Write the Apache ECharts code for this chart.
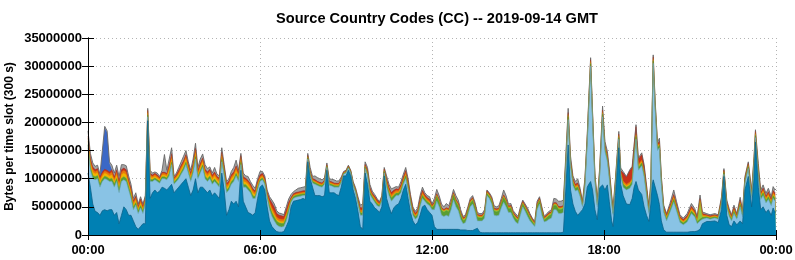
<!DOCTYPE html>
<html>
<head>
<meta charset="utf-8">
<script src="https://cdn.jsdelivr.net/npm/echarts@6/dist/echarts.min.js"></script>
<style>
html,body{margin:0;padding:0;background:#fff;}
#chart{width:795px;height:260px;}
</style>
</head>
<body>
<div id="chart"></div>
<script>
// time of each sample, minutes after 00:00 GMT
const minutes = [
0,5,10,15,20,25,30,35,40,45,50,55,
60,65,70,75,80,85,90,95,100,105,110,115,120,
125,130,135,140,145,150,155,160,165,170,175,
180,185,190,195,200,205,210,215,220,225,230,235,
240,245,250,255,260,265,270,275,280,285,290,295,
300,305,310,315,320,325,330,335,340,345,350,355,
360,365,370,375,380,385,390,395,400,405,410,415,
420,425,430,435,440,445,450,455,460,465,470,475,
480,485,490,495,500,505,510,515,520,525,530,535,
540,545,550,555,560,565,570,575,580,585,590,595,
600,605,610,615,620,625,630,635,640,645,650,655,
660,665,670,675,680,685,690,695,700,705,710,715,
720,725,730,735,740,745,750,755,760,765,770,775,
780,785,790,795,800,805,810,815,820,825,830,835,
840,845,850,855,860,865,870,875,880,885,890,895,
900,905,910,915,920,925,930,935,940,945,950,955,
960,965,970,975,980,985,990,995,1000,1005,1010,1015,
1020,1025,1030,1035,1040,1045,1048,1052,1056,1061,1066,1071,1077,1082,1087,1091,1096,1099,1104,1111,1115,1120,1127,1134,1139,1143,1147,1152,1159,1164,1169,1174,1178,1181,1183,1187,1192,1196,1200,1205,
1211,1218,1226,1232,1239,1246,1254,1263,1270,1275,1281,1286,1295,1302,1312,1319,1326,1331,1337,1342,1347,1352,1358,1365,1370,1375,1382,1389,1394,1397,1403,1408,1413,1419,1424,1430,1434,1438,1440
];

// top of the whole stack (millions of bytes)
const total = [
18.5,14.5,12.8,12.2,12.4,10.8,15,19.3,18.5,13,12.4,11,
12.4,10.4,12.5,12.5,12.3,10.5,9,6.5,7.5,5.5,6.8,5.5,7,
22.5,11.5,11,11.2,11,10.4,11.5,14.3,11.5,13.5,15.5,
10.5,11,12,13,14,15,13,11.5,13.5,16.3,12,13.5,
14.4,12.5,11.8,12.1,11,12,10.8,10.5,15.5,12.5,9.5,10,
11.3,12,13.3,11.5,14.5,11,10.5,10.4,9.5,8.8,8.3,10,
11.3,11.3,10.5,8,6.8,6.2,5.5,4.3,3.9,3.8,3.6,5,
6.4,7.2,7.7,8,8.3,8.4,8.5,8.6,14.5,12,10.4,10.5,
10.2,10,9.8,10.2,12.8,10,9.9,9.8,9.6,9.6,10.3,11.3,
11.5,12.4,11.5,9.5,8.4,6.8,5.3,5.5,13,12,9,7.8,
7.2,6.5,5.9,7,12,10.5,9,8.2,8.4,8.6,8.5,9.5,
10.8,12,10,7.2,5,4.2,4.8,7,8.5,7.5,7,6.8,
5.5,6.5,8.1,7,5.5,5,5.6,5.2,6.5,8.1,7,6.2,
4.5,3.3,3.6,5,6.5,7,5.8,4,3.8,3.8,4.5,8,
7.5,6.8,5.2,5,5.2,6.5,8,7,5.5,5.6,4.3,3.8,
3.3,5,6.2,5.5,4.8,3.8,3,2.4,6,6.8,5,3.3,
3.8,4.2,4.5,6.5,6.4,6,6,6.2,14,22.5,14,10.5,
9.5,10,8.3,6,10,18,24,31.5,22,11,6.2,12,22.9,16.6,14.9,11.9,7.2,4.8,10.1,18.4,11.9,11.3,10.4,11.6,12.2,16,19.6,13.7,14.6,12.5,8.9,5.1,9.5,23.2,32,24,16.5,17.2,10.5,5.3,
3.8,5.6,8,5.9,3.6,3,3.8,5.6,4.7,3.3,7.1,4.1,3.8,3.6,3.8,3.6,6.8,11.8,6.2,4.7,3.6,5.3,3.8,6.7,4.4,10.4,13,8,13.9,18.7,12.7,8,8.9,7.4,8.3,6.8,8.6,8,8.2
];

// top edge of the dark teal (bottom) layer
const tealTop = [
11,8.5,5.5,4.2,4,3.5,4.3,4.5,4.3,4.5,4.5,3.5,
4,2,3.5,5,4.5,3.5,3.5,2.5,1.5,1,1.5,2,2,
20.3,6.5,7.5,8,7.5,7.8,8.5,8.3,8,8.5,9,
7.5,8,8.5,9,9.5,10,8.5,7,8,10,7.5,8.5,
8.5,8,7.5,8,7,7.5,7,6.5,11,8,3.5,4.5,
6,5.5,6,5,11.5,6,5,4,3.8,3.5,4,6.5,
8.5,8.9,8,5,2.5,1.5,1,0.6,0.5,0.5,0.6,1.5,
2.5,5,6,6.1,6.2,6.3,6.5,6.3,13,10,8.5,7,
7,7,6.8,7,11.5,7.5,7.5,7.5,7.2,7,8.5,10.5,
10.5,11.5,10.5,8,6.5,4.2,1.5,1,11,9,6,5.5,
4.8,4.5,4,5,10.5,6.5,5,3.8,4.8,5.3,5.5,6.5,
8,9,6.5,4,2.5,1.8,2.2,3.5,5,5.3,4.5,4,
3.5,1.5,1,1,1,1,1,1,1,1,1,1,
0.9,0.9,0.9,0.8,0.8,0.8,1,1.2,0.5,0.4,0.4,0.4,
0.4,0.4,0.4,0.4,0.4,0.4,0.4,0.4,0.4,0.4,0.4,0.4,
0.4,0.4,0.4,0.4,0.4,0.4,0.4,0.4,0.4,0.4,0.4,0.4,
0.4,0.4,0.4,0.4,0.4,0.4,0.4,0.5,8,16,8,5.5,
4.2,3.5,4,4.5,5.5,8.5,9,9.5,8,4.5,2.7,8.4,8.9,8,8.9,6,2.5,1.5,7,15.5,9,7,5.5,5.4,6.5,8.5,9.5,8,7.2,5,3.5,2.4,5.5,9,9.8,9.5,7,5.4,2.5,0.9,
0.5,0.5,0.5,0.5,0.5,0.5,0.5,0.6,0.6,0.7,1,2,2.4,2.4,2.5,2.2,4.5,10.4,3.5,1.8,1.5,2.5,1.8,2.5,2,8,10.4,5,10,16.5,8.5,4.5,5,4,4.5,3.5,4.8,4,4.2
];

// top edge of the light blue layer
const lightBlueTop = [
15.5,11.5,10,9.8,10,8.5,9.5,10,9.8,9.5,9.5,8.5,
9.5,7.5,9.5,9.8,9.5,8,6.5,4.5,5.3,3.8,4.8,3.8,5.5,
21,9.5,9.5,9.8,9.5,9.2,10,10,9.8,10.5,12.5,
9,9.5,10,10.8,11.5,12.5,11,9.5,11,13.5,10,11,
12,10,9.5,10,9,9.5,9,8.5,13,10.5,7.5,8,
9,9.5,10.5,9.5,12.5,8.5,8.5,8,7.5,6.5,6.5,8,
9.5,9.8,9,6.5,4.5,3.3,2.5,1.8,1.5,1.4,1.5,2.5,
4,5.8,6.5,6.7,6.8,6.9,7,7,13.5,10.5,9.2,9,
8.8,8.6,8.5,9,12,8.8,8.7,8.5,8.5,8.5,9.3,10.8,
11,11.9,11,8.8,7.5,5.5,3.5,3.5,11.8,10.5,7.2,6.5,
5.8,5.2,5,6,11,8.5,7,6,6.5,7,7,7.5,
9,10,8,5.5,3.5,2.8,3.2,5,6.5,6,5.5,5.2,
4.5,4.5,6,5,3.5,3.3,3.5,3.3,4.5,6.2,5,4.3,
2.8,2,2.2,3.5,5,5.5,4.2,2.5,2.5,2.5,3,7,
6.5,5.5,3.5,3.4,3.5,4.8,5.8,5,4,4,3,2.3,
2,3.5,5,4.2,3.3,2.5,2,1.5,4.5,5.5,3.5,2.3,
2.5,2.8,3,4.5,4.5,3.8,3.8,4,12,20.5,12,8.8,
7.8,8,6.8,5,8.5,16.5,22.5,30,20.5,9.5,5,10.5,21,14.8,13,10,5.7,3.5,8.8,17,10.5,8.5,8,8.3,9,13.5,17,11.5,12.3,10.3,7,3.8,8,21.8,30.5,22.5,15,15.5,9,4,
2.5,4,5.8,4.2,2.2,1.8,2.3,3.8,3.2,2,2.5,2.8,3,2.8,3,2.8,5.5,10.8,4.8,3.3,2.5,3.8,2.8,5,3.2,9.2,11.8,6.5,12.5,17.3,10.5,6.3,7,5.7,6.3,5.2,6.5,6,6.2
];

// thin layers (thickness, millions of bytes)
const green = [
.5,.5,.5,.5,.5,.5,.4,.4,.4,.4,.5,.5,
.5,.5,.5,.5,.5,.5,.5,.4,.4,.4,.4,.4,.3,
.3,.3,.3,.3,.3,.3,.3,.3,.3,.4,.4,
.3,.3,.3,.3,.4,.4,.3,.3,.4,.4,.3,.4,
.4,.4,.4,.4,.4,.4,.3,.4,.4,.4,.4,.4,
.4,.4,.4,.4,.4,.4,.4,.4,.4,.4,.3,.4,
.3,.3,.3,.3,.6,.6,.6,.6,.6,.6,.5,.6,
.5,.3,.3,.3,.3,.3,.3,.3,.2,.3,.3,.3,
.25,.25,.25,.25,.15,.25,.25,.25,.2,.2,.2,.1,
.1,.1,.1,.15,.2,.3,.4,.4,.25,.35,.4,.3,
.35,.35,.25,.25,.25,.5,.5,.55,.5,.4,.4,.5,
.45,.5,.5,.45,.4,.4,.4,.5,.5,.4,.4,.4,
.3,.8,.8,.8,.8,.7,.8,.8,.8,.8,.8,.8,
.7,.5,.55,.6,.6,.6,.65,.6,.5,.5,.6,.3,
.3,.5,.7,.7,.7,.7,.8,.8,.6,.7,.5,.6,
.5,.6,.45,.5,.6,.5,.3,.2,.6,.5,.6,.3,
.5,.6,.6,.7,.7,.7,.7,.7,.5,.5,.5,.5,
.45,.5,.4,.2,.4,.4,.4,.4,.4,.4,.3,.4,.45,.45,.45,.45,.4,.3,.3,.3,.3,.5,.45,.5,.5,.45,.45,.45,.45,.45,.45,.35,.4,.3,.4,.4,.4,.4,.4,.3,
.35,.4,.5,.4,.35,.3,.35,.4,.35,.3,.3,.3,.2,.2,.2,.2,.3,.25,.35,.35,.3,.35,.25,.4,.3,.3,.3,.35,.35,.35,.5,.4,.45,.4,.45,.4,.45,.45,.45
];
const lime = [
.1,.1,.1,.1,.1,.1,.1,.1,.1,.1,.1,.1,
.1,.1,.1,.1,.1,.1,.1,.1,.1,.1,.1,.1,.1,
.05,.05,.05,.05,.05,.05,.05,.05,.05,.05,.05,
.1,.1,.1,.1,.1,.1,.1,.1,.1,.1,.1,.1,
.1,.1,.1,.1,.1,.1,.1,.1,.1,.1,.1,.1,
.1,.1,.1,.1,.1,.1,.1,.1,.1,.1,.1,.1,
.05,.05,.05,.05,.1,.1,.1,.1,.1,.1,.1,.1,
.1,.05,.05,.05,.05,.05,.05,.05,.05,.05,.05,.05,
.05,.05,.05,.05,.05,.05,.05,.05,.05,.05,.05,.05,
.05,.05,.05,.05,.05,.05,.05,.05,.05,.05,.05,.05,
.05,.05,.05,.05,.05,.05,.05,.05,.05,.05,.05,.05,
.05,.05,.05,.05,.05,.05,.05,.05,.05,.05,.05,.05,
.05,.2,.2,.2,.2,.2,.2,.2,.2,.2,.2,.2,
.2,.2,.2,.2,.2,.2,.2,.2,.2,.2,.2,.2,
.2,.2,.2,.2,.2,.2,.2,.2,.2,.2,.2,.2,
.2,.2,.2,.2,.2,.2,.2,.2,.2,.2,.2,.2,
.2,.2,.2,.2,.2,.2,.2,.2,.1,.1,.1,.1,
.1,.1,.1,.05,.1,.1,.1,.1,.1,.1,.1,.1,.1,.1,.1,.1,.1,.1,.1,.1,.1,.1,.1,.1,.1,.1,.1,.1,.1,.1,.1,.1,.1,.1,.1,.1,.1,.1,.1,.1,
.1,.1,.1,.1,.1,.1,.1,.1,.1,.1,3,.1,.05,.05,.05,.05,.1,.05,.1,.1,.05,.1,.05,.1,.1,.1,.1,.1,.1,.1,.1,.1,.1,.1,.1,.1,.1,.1,.1
];
const yellow = [
.6,.6,.6,.5,.5,.5,.5,.5,.5,.5,.6,.5,
.6,.6,.6,.6,.6,.5,.5,.4,.4,.3,.4,.3,.3,
.3,.4,.3,.3,.3,.25,.3,.3,.3,.6,.6,
.3,.3,.4,.5,.5,.5,.4,.4,.5,.6,.4,.5,
.5,.5,.5,.5,.4,.5,.4,.4,.5,.4,.4,.4,
.5,.5,.5,.4,.4,.5,.4,.5,.4,.5,.3,.4,
.2,.2,.2,.2,.3,.4,.4,.3,.3,.3,.3,.3,
.3,.1,.1,.1,.1,.1,.1,.1,.1,.1,.1,.1,
.1,.1,.1,.1,.05,.1,.1,.1,.1,.1,.1,.05,
.05,.05,.05,.05,.1,.1,.15,.15,.1,.1,.15,.1,
.15,.1,.1,.1,.1,.2,.2,.2,.2,.15,.15,.2,
.15,.2,.2,.15,.15,.1,.15,.2,.2,.15,.15,.15,
.1,.05,.05,.05,.05,.05,.05,.05,.05,.05,.05,.05,
.05,.05,.05,.05,.05,.05,.05,.05,.05,.05,.05,.05,
.05,.05,.05,.05,.05,.05,.05,.05,.05,.05,.05,.05,
.05,.05,.05,.05,.05,.05,.05,.05,.05,.05,.05,.05,
.05,.05,.05,.05,.05,.05,.05,.05,.15,.15,.15,.15,
.15,.15,.15,.1,.15,.15,.15,.15,.15,.15,.15,.15,.15,.15,.15,.15,.15,.15,.15,.15,.15,.2,.2,.2,.2,.2,.2,.2,.2,.2,.2,.2,.15,.15,.15,.15,.15,.15,.15,.15,
.2,.2,.25,.2,.2,.15,.2,.25,.2,.2,.2,.2,.1,.1,.1,.1,.2,.15,.2,.2,.15,.2,.15,.2,.15,.15,.15,.2,.2,.2,.25,.2,.25,.2,.25,.2,.25,.25,.25
];
const orange = [
.5,.5,.5,.4,.4,.4,.4,.4,.4,.4,.5,.4,
.5,.5,.5,.5,.5,.4,.4,.4,.4,.3,.4,.3,.3,
.3,.4,.3,.3,.3,.25,.3,.3,.3,.5,.5,
.3,.3,.4,.4,.4,.5,.4,.4,.4,.5,.4,.4,
.4,.4,.4,.4,.4,.4,.35,.4,.4,.4,.4,.4,
.4,.4,.5,.4,.4,.5,.4,.4,.4,.4,.35,.4,
.3,.3,.3,.3,.4,.5,.5,.4,.4,.4,.4,.4,
.4,.2,.2,.2,.2,.2,.2,.2,.15,.2,.2,.2,
.2,.2,.2,.2,.15,.2,.2,.2,.2,.2,.15,.1,
.1,.1,.1,.15,.15,.25,.35,.35,.2,.3,.35,.25,
.3,.3,.2,.2,.2,.4,.4,.4,.4,.35,.3,.4,
.35,.4,.4,.35,.3,.3,.3,.4,.4,.3,.3,.3,
.2,.15,.15,.15,.15,.15,.15,.15,.15,.15,.15,.15,
.15,.15,.15,.15,.15,.15,.15,.15,.15,.15,.15,.15,
.15,.15,.15,.15,.15,.15,.15,.15,.15,.15,.15,.15,
.15,.15,.15,.15,.15,.15,.15,.15,.15,.15,.15,.15,
.15,.15,.15,.15,.15,.15,.15,.15,.25,.25,.25,.25,
.25,.25,.25,.2,.25,.25,.25,.25,.25,.25,.2,.25,.25,.25,.25,.25,.25,.2,.2,.2,.2,.3,.3,.3,.3,.3,.3,.3,.3,.3,.3,.3,.25,.2,.25,.25,.25,.25,.25,.2,
.25,.25,.3,.25,.25,.2,.25,.3,.25,.2,.25,.2,.15,.15,.15,.15,.2,.15,.25,.25,.2,.25,.15,.25,.2,.2,.2,.25,.25,.25,.3,.25,.3,.25,.3,.25,.3,.3,.3
];
const red = [
.4,.4,.4,.3,.3,.3,.3,.3,.3,.3,.4,.3,
.4,.4,.4,.4,.4,.3,.3,.3,.3,.2,.3,.2,.2,
.2,.3,.2,.2,.2,.15,.2,.2,.2,.4,.4,
.2,.2,.3,.3,.3,.3,.3,.3,.3,.3,.3,.3,
.3,.3,.3,.3,.3,.3,.25,.3,.3,.3,.3,.3,
.3,.3,.3,.3,.3,.3,.3,.3,.3,.3,.25,.3,
.3,.3,.3,.3,.5,.8,.8,.6,.6,.6,.5,.6,
.5,.2,.2,.2,.2,.2,.2,.2,.15,.2,.2,.2,
.15,.15,.15,.15,.1,.15,.15,.15,.15,.15,.15,.05,
.05,.05,.05,.1,.15,.2,.4,.4,.15,.25,.3,.2,
.25,.25,.15,.15,.15,.3,.3,.35,.3,.25,.25,.3,
.3,.3,.3,.3,.25,.2,.25,.3,.3,.25,.25,.25,
.15,.15,.15,.15,.15,.15,.15,.15,.15,.15,.15,.15,
.15,.15,.15,.15,.15,.15,.15,.15,.15,.15,.15,.15,
.15,.15,.15,.15,.15,.15,.15,.15,.15,.15,.15,.15,
.15,.15,.15,.15,.15,.15,.15,.15,.15,.15,.15,.15,
.15,.15,.15,.15,.15,.15,.15,.15,.25,.25,.25,.25,
.25,.25,.25,.15,.25,.25,.25,.25,.25,.25,.2,.25,.25,.25,.25,.25,.25,.2,.2,.2,.2,1.4,1.2,2,1.9,1.3,1.2,.9,.9,.8,.6,.15,.25,.2,.25,.25,.25,.25,.25,.2,
.2,.2,.25,.25,.2,.2,.2,.25,.2,.2,.2,.2,.1,.1,.1,.1,.2,.15,.2,.2,.15,.2,.15,.25,.2,.2,.2,.2,.2,.2,.3,.25,.25,.25,.3,.25,.3,.3,.3
];
// the royal blue layer only shows around 00:30-00:45
const royalMinutes = [30,35,40,45];
const royalValues = [3.5,7.3,6.7,1.5];

// ---- build layer tops (each layer is drawn from 0 to its cumulative top, highest first) ----
const royal = minutes.map(m => { const k = royalMinutes.indexOf(m); return k < 0 ? 0 : royalValues[k]; });
const thin = [green, lime, yellow, orange, red, royal];
const tops = [tealTop, lightBlueTop];
let run = lightBlueTop.slice();
thin.forEach(arr => { run = run.map((v,i) => v + arr[i]); tops.push(run); });
tops.push(total.map((v,i) => Math.max(v, run[i] + 0.1)));  // gray layer top = overall total

const styles = [
  {name:'teal',  c:'#0080b3', lc:'#0b628a', lw:0.8},
  {name:'lblue', c:'#89c3e5', lc:'#6fa9c8', lw:0.6},
  {name:'green', c:'#5a9e34', lc:'#4f8c2c', lw:0.4},
  {name:'lime',  c:'#8cc84a', lc:'#7ab23e', lw:0.3},
  {name:'yellow',c:'#f2b300', lc:'#e0a200', lw:0.3},
  {name:'orange',c:'#e8780c', lc:'#d4690a', lw:0.3},
  {name:'red',   c:'#c8321a', lc:'#a82a16', lw:0.4},
  {name:'royal', c:'#3b68c6', lc:'#2d55a8', lw:0},
  {name:'gray',  c:'#a3a3a3', lc:'#666666', lw:0.9}
];

const FONT = 'Liberation Sans, Arial, sans-serif';
const chart = echarts.init(document.getElementById('chart'), null, {renderer:'canvas'});
function hhmm(m){ const h = Math.floor(m/60)%24; return (h<10?'0':'')+h+':00'; }

const series = [];
for (let k = styles.length - 1; k >= 0; k--) {
  const S = styles[k], top = tops[k];
  series.push({
    name:S.name, type:'line', xAxisIndex:0, yAxisIndex:0,
    symbol:'none', smooth:false, silent:true, z:2,
    lineStyle:{width:S.lw, color:S.lc},
    areaStyle:{color:S.c, opacity:1, origin:'start'},
    data: minutes.map((m,i) => [m, top[i]*1e6])
  });
}

chart.setOption({
  animation:false,
  backgroundColor:'#fff',
  title:{
    text:'Source Country Codes (CC) -- 2019-09-14 GMT',
    left:432, top:6, textAlign:'center',
    textStyle:{fontFamily:FONT, fontWeight:'bold', fontSize:14.6, color:'#000'}
  },
  grid:{left:88, right:19, top:38, bottom:25, containLabel:false, outerBoundsMode:'none'},
  xAxis:[
    {type:'value', min:0, max:1440, interval:360,
     axisLine:{show:false}, axisTick:{show:false},
     axisLabel:{formatter:hhmm, fontFamily:FONT, fontWeight:'bold', fontSize:13, color:'#000', margin:9},
     splitLine:{show:true, lineStyle:{color:'#b4b4b4', type:[1,3], width:1}}},
    {type:'value', min:0, max:1440, interval:360, position:'bottom', z:10,
     axisLine:{show:true, lineStyle:{color:'#000', width:1}},
     axisTick:{show:true, inside:true, length:5, lineStyle:{color:'#000'}},
     axisLabel:{show:false}, splitLine:{show:false}},
    {type:'value', min:0, max:1440, interval:360, position:'top', z:10,
     axisLine:{show:true, lineStyle:{color:'#000', width:1}},
     axisTick:{show:true, inside:true, length:5, lineStyle:{color:'#000'}},
     axisLabel:{show:false}, splitLine:{show:false}}
  ],
  yAxis:[
    {type:'value', min:0, max:35000000, interval:5000000,
     name:'Bytes per time slot (300 s)', nameLocation:'middle', nameGap:72, nameRotate:90,
     nameMoveOverlap:false,
     nameTextStyle:{fontFamily:FONT, fontWeight:'bold', fontSize:12, color:'#000'},
     axisLine:{show:false}, axisTick:{show:false},
     axisLabel:{formatter:v => String(v), fontFamily:FONT, fontWeight:'bold', fontSize:13, color:'#000', margin:6},
     splitLine:{show:true, lineStyle:{color:'#b4b4b4', type:[1,3], width:1}}},
    {type:'value', min:0, max:35000000, interval:5000000, position:'left', z:10,
     axisLine:{show:true, lineStyle:{color:'#000', width:1}},
     axisTick:{show:true, inside:true, length:6, lineStyle:{color:'#000'}},
     axisLabel:{show:false}, splitLine:{show:false}},
    {type:'value', min:0, max:35000000, interval:5000000, position:'right', z:10,
     axisLine:{show:true, lineStyle:{color:'#000', width:1}},
     axisTick:{show:true, inside:true, length:6, lineStyle:{color:'#000'}},
     axisLabel:{show:false}, splitLine:{show:false}}
  ],
  series: series
});
</script>
</body>
</html>
